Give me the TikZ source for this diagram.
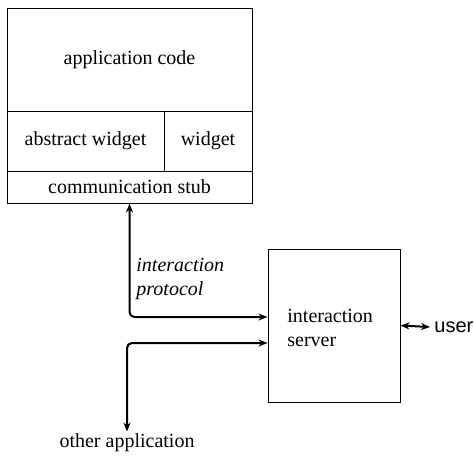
\documentclass[tikz,border=0pt]{standalone}
\usepackage{fontspec}
\setmainfont{Liberation Serif}
\newfontfamily\userfont{Liberation Sans}
\usetikzlibrary{arrows.meta}
\begin{document}
\begin{tikzpicture}[x=0.5pt,y=-0.5pt,font=\fontsize{10}{12}\selectfont,
  >={Stealth[length=4.5pt,width=3.5pt]},
  part/.style 2 args={draw,line width=0.5pt,inner sep=0pt,minimum width=#1,minimum height=#2},
  link/.style={line width=1pt,rounded corners=2.5pt,<->}]
  \useasboundingbox (0,0) rectangle (474,456);
  % client side
  \node[part={122.5pt}{51.5pt}] (app) at (129.5,59.5) {application code};
  \node[part={78.5pt}{30pt}] (abs) at (85.5,141) {abstract widget};
  \node[part={44pt}{30pt}] (wid) at (208,141) {widget};
  \node[part={122.5pt}{16pt}] (stub) at (129.5,187) {communication stub};
  % server side
  \node[part={66pt}{76.5pt}] (server) at (334,325.5) {};
  \node[align=left,anchor=west,inner sep=0pt] (srvtext) at (287,328) {interaction\\server};
  \node[anchor=west,inner sep=2pt] (user) at (430,327) {\userfont user};
  \node[align=left,anchor=west,inner sep=0pt] (proto) at (136,279) {\itshape interaction\\\itshape protocol};
  \node[inner sep=1pt] (other) at (127,443) {other application};
  % connectors
  \draw[link] (stub.south) |- ([yshift=4.25pt]server.west);
  \draw[link] (other.north) |- ([yshift=-8.75pt]server.west);
  \draw[link] (server.east) -- (user.west);
\end{tikzpicture}
\end{document}
